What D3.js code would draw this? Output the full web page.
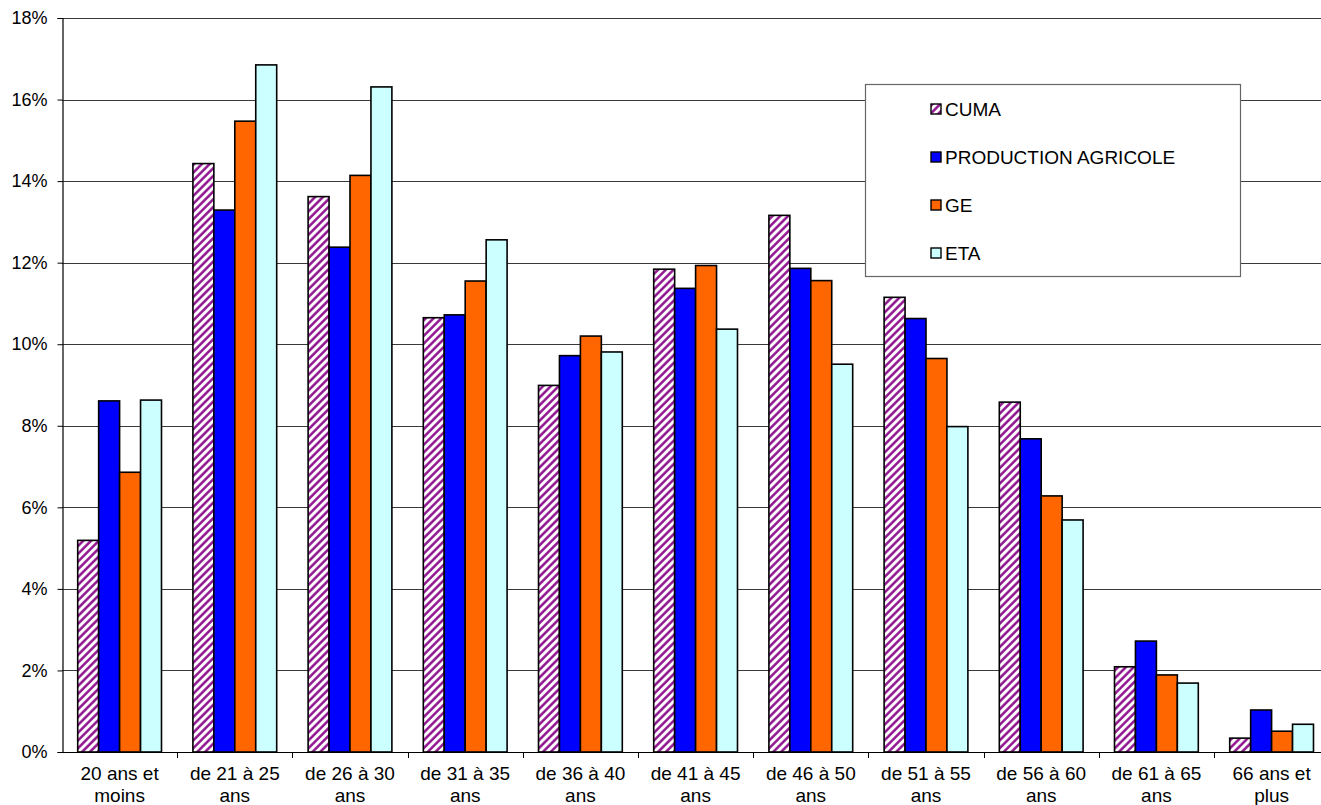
<!DOCTYPE html>
<html>
<head>
<meta charset="utf-8">
<script src="https://cdn.jsdelivr.net/npm/d3@7"></script>
<style>
  html, body { margin: 0; padding: 0; background: #fff; }
  svg { display: block; }
  text { font-family: "Liberation Sans", Arial, sans-serif; fill: #000; }
</style>
</head>
<body>
<svg id="chart" width="1321" height="805"></svg>
<script>
// Répartition par tranche d'âge (%)
const categories = [
  ["20 ans et", "moins"],
  ["de 21 à 25", "ans"],
  ["de 26 à 30", "ans"],
  ["de 31 à 35", "ans"],
  ["de 36 à 40", "ans"],
  ["de 41 à 45", "ans"],
  ["de 46 à 50", "ans"],
  ["de 51 à 55", "ans"],
  ["de 56 à 60", "ans"],
  ["de 61 à 65", "ans"],
  ["66 ans et", "plus"]
];
const seriesNames = ["CUMA", "PRODUCTION AGRICOLE", "GE", "ETA"];
const cuma       = [5.19, 14.43, 13.62, 10.65, 8.99, 11.84, 13.16, 11.15, 8.58, 2.09, 0.34];
const production = [8.61, 13.29, 12.38, 10.72, 9.72, 11.37, 11.86, 10.63, 7.68, 2.72, 1.03];
const ge         = [6.86, 15.47, 14.14, 11.55, 10.20, 11.93, 11.56, 9.65, 6.28, 1.89, 0.51];
const eta        = [8.63, 16.85, 16.31, 12.56, 9.81, 10.37, 9.51, 7.98, 5.69, 1.69, 0.68];
const yTicks = [0, 2, 4, 6, 8, 10, 12, 14, 16, 18];

const seriesValues = [cuma, production, ge, eta];
const fills = ["url(#hatch)", "#0000FF", "#FF6600", "#CCFFFF"];

const svg = d3.select("#chart");

// Motif hachuré violet pour la série CUMA
const defs = svg.append("defs");
const pat = defs.append("pattern")
  .attr("id", "hatch")
  .attr("patternUnits", "userSpaceOnUse")
  .attr("width", 5.5).attr("height", 5.5)
  .attr("patternTransform", "rotate(45)");
pat.append("rect").attr("width", 5.5).attr("height", 5.5).attr("fill", "#fff");
pat.append("line")
  .attr("x1", 1.4).attr("y1", 0).attr("x2", 1.4).attr("y2", 5.5)
  .attr("stroke", "#8B0A8B").attr("stroke-width", 2.4);

const plotLeft = 62, plotTop = 18, plotBottom = 752;
const catW = 115.2;
const plotRight = plotLeft + catW * categories.length;

const x = d3.scaleBand()
  .domain(d3.range(categories.length))
  .range([plotLeft, plotRight])
  .padding(0);

const barW = catW / 5.5;
const xs = d3.scaleBand()
  .domain(d3.range(seriesNames.length))
  .range([barW * 0.75, catW - barW * 0.75])
  .padding(0);

const y = d3.scaleLinear().domain([0, 18]).range([plotBottom, plotTop]);

// Quadrillage horizontal
svg.append("g")
  .selectAll("line")
  .data(yTicks.filter(d => d > 0))
  .join("line")
  .attr("x1", plotLeft).attr("x2", plotRight)
  .attr("y1", d => Math.round(y(d)) + 0.5)
  .attr("y2", d => Math.round(y(d)) + 0.5)
  .attr("stroke", "#3a3a3a").attr("stroke-width", 1);

// Barres
const groups = svg.append("g")
  .selectAll("g")
  .data(categories.map((c, i) => i))
  .join("g")
  .attr("transform", i => `translate(${x(i)},0)`);

groups.selectAll("rect")
  .data(i => seriesValues.map((vals, s) => ({ s, v: vals[i] })))
  .join("rect")
  .attr("x", d => xs(d.s))
  .attr("width", xs.bandwidth())
  .attr("y", d => y(d.v))
  .attr("height", d => y(0) - y(d.v))
  .attr("fill", d => fills[d.s])
  .attr("stroke", "#000")
  .attr("stroke-width", 1.6);

// Axe Y
const yAxis = d3.axisLeft(y)
  .tickValues(yTicks)
  .tickFormat(d => d + "%")
  .tickSize(5)
  .tickPadding(10);
const gy = svg.append("g")
  .attr("transform", `translate(${plotLeft + 0.5},0)`)
  .call(yAxis);
gy.select(".domain").attr("stroke", "#000").attr("stroke-width", 1.2);
gy.selectAll(".tick line").attr("stroke", "#000");
gy.selectAll(".tick text")
  .style("font-size", "18px")
  .style("font-family", "'Liberation Sans', Arial, sans-serif")
  .attr("fill", "#000");

// Axe X
const xEdges = d3.scaleLinear().domain([0, categories.length]).range([plotLeft, plotRight]);
const gx = svg.append("g");
gx.append("line")
  .attr("x1", plotLeft).attr("x2", plotRight)
  .attr("y1", plotBottom + 0.5).attr("y2", plotBottom + 0.5)
  .attr("stroke", "#000").attr("stroke-width", 1.2);
gx.selectAll("line.tick")
  .data(d3.range(1, categories.length + 1))
  .join("line")
  .attr("class", "tick")
  .attr("x1", d => Math.round(xEdges(d)) + 0.5)
  .attr("x2", d => Math.round(xEdges(d)) + 0.5)
  .attr("y1", plotBottom).attr("y2", plotBottom + 6)
  .attr("stroke", "#000");

const labels = gx.selectAll("text.cat")
  .data(categories)
  .join("text")
  .attr("class", "cat")
  .attr("x", (d, i) => x(i) + catW / 2)
  .attr("y", 780)
  .attr("text-anchor", "middle")
  .style("font-size", "19px");
labels.selectAll("tspan")
  .data(d => d)
  .join("tspan")
  .attr("x", function () { return d3.select(this.parentNode).attr("x"); })
  .attr("dy", (d, j) => j === 0 ? 0 : 22)
  .text(d => d);

// Légende
const lg = svg.append("g");
lg.append("rect")
  .attr("x", 865.5).attr("y", 84.5)
  .attr("width", 375).attr("height", 192)
  .attr("fill", "#fff")
  .attr("stroke", "#666").attr("stroke-width", 1.2);

const rowY = d3.scalePoint().domain(d3.range(seriesNames.length)).range([109, 253]);
const items = lg.selectAll("g.item")
  .data(seriesNames)
  .join("g")
  .attr("class", "item")
  .attr("transform", (d, i) => `translate(0,${rowY(i)})`);
items.append("rect")
  .attr("x", 931).attr("y", -5)
  .attr("width", 10).attr("height", 10)
  .attr("fill", (d, i) => fills[i])
  .attr("stroke", "#000").attr("stroke-width", 1.4);
items.append("text")
  .attr("x", 945).attr("y", 6.5)
  .style("font-size", "19px")
  .text(d => d);
</script>
</body>
</html>
